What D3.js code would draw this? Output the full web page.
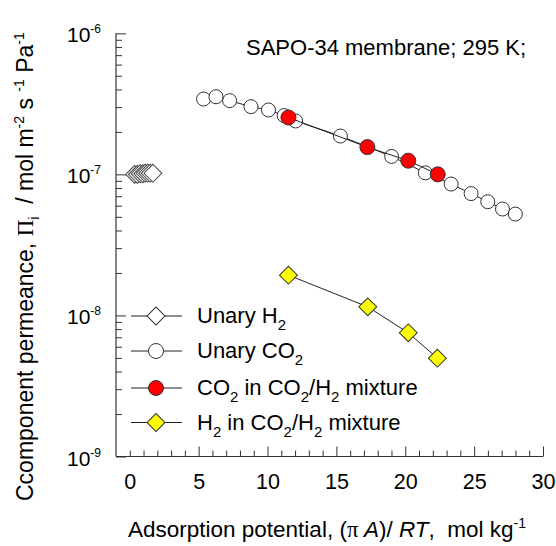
<!DOCTYPE html>
<html>
<head>
<meta charset="utf-8">
<script src="https://cdn.jsdelivr.net/npm/d3@7/dist/d3.min.js"></script>
<style>
  html, body { margin: 0; padding: 0; background: #fff; }
  svg { display: block; }
  text { font-family: "Liberation Sans", Arial, sans-serif; fill: #000; }
  .serif { font-family: "Liberation Serif", "Times New Roman", serif; }
</style>
</head>
<body>
<svg id="chart" width="556" height="546"></svg>
<script>
// Adsorption potential (mol/kg) and component permeance (mol m^-2 s^-1 Pa^-1)
const unaryH2X   = [0.35, 0.55, 0.75, 0.95, 1.12, 1.3, 1.48, 1.68];
const unaryH2Y   = [1.0e-7, 1.0e-7, 1.01e-7, 1.01e-7, 1.02e-7, 1.02e-7, 1.02e-7, 1.02e-7];
const unaryCO2X  = [5.36, 6.26, 7.25, 8.80, 10.07, 11.21, 12.04, 15.29, 19.01, 21.46, 23.33, 24.78, 25.99, 27.06, 27.99];
const unaryCO2Y  = [3.42e-7, 3.55e-7, 3.33e-7, 3.02e-7, 2.86e-7, 2.61e-7, 2.39e-7, 1.87e-7, 1.34e-7, 1.025e-7, 8.54e-8, 7.31e-8, 6.40e-8, 5.68e-8, 5.23e-8];
const mixCO2X    = [11.52, 17.25, 20.22, 22.36];
const mixCO2Y    = [2.53e-7, 1.56e-7, 1.25e-7, 1.00e-7];
const mixH2X     = [11.52, 17.28, 20.22, 22.33];
const mixH2Y     = [1.93e-8, 1.15e-8, 7.53e-9, 4.98e-9];

const xTicks = d3.range(0, 31, 1);
const xTickLabels = [0, 5, 10, 15, 20, 25, 30];
const yDecades = [-9, -8, -7, -6];

const svg = d3.select("#chart");

const x = d3.scaleLinear().domain([-1, 30]).range([116, 543]);
const y = d3.scaleLog().domain([1e-9, 1e-6]).range([456.5, 33.3]);

// ---- bottom axis ----
const xAxis = d3.axisBottom(x)
  .tickValues(xTicks)
  .tickSize(-6)
  .tickSizeOuter(0)
  .tickFormat(d => xTickLabels.includes(d) ? d : "")
  .tickPadding(17);

const gx = svg.append("g").attr("transform", "translate(0,456.5)").call(xAxis);
gx.select(".domain").attr("stroke", "#333").attr("stroke-width", 1.2)
  .attr("d", `M${x(-1)},0H${x(30)}`);
gx.selectAll(".tick line").attr("stroke", "#333")
  .attr("y2", d => (d % 5 === 0 && d > 0) ? -10 : -6);
gx.selectAll(".tick text").attr("font-size", 21.5).attr("fill", "#000")
  .style("font-family", "Liberation Sans, Arial, sans-serif");

// ---- left axis (log, with minor ticks) ----
const yTickVals = [];
yDecades.forEach(p => {
  const base = Math.pow(10, p);
  if (p === -6) { yTickVals.push(base); return; }
  for (let k = 1; k <= 9; k++) yTickVals.push(k * base);
});
const isMajor = v => Math.abs(Math.log10(v) - Math.round(Math.log10(v))) < 1e-9;

const yAxis = d3.axisLeft(y)
  .tickValues(yTickVals)
  .tickSize(-6)
  .tickSizeOuter(0)
  .tickFormat("");

const gy = svg.append("g").attr("transform", "translate(116,0)").call(yAxis);
gy.select(".domain").attr("stroke", "#333").attr("stroke-width", 1.2)
  .attr("d", `M0,${y(1e-9)}V${y(1e-6)}`);
gy.selectAll(".tick line").attr("stroke", "#333")
  .attr("x2", d => isMajor(d) ? 10 : 6);

// decade labels 10^n
yDecades.forEach(p => {
  const t = svg.append("text")
    .attr("x", 101).attr("y", y(Math.pow(10, p)) + 9)
    .attr("text-anchor", "end").attr("font-size", 21);
  t.append("tspan").text("10");
  t.append("tspan").attr("font-size", 12).attr("dy", -9).text(String(p));
});

// ---- series ----
const lineGen = d3.line().x(d => x(d[0])).y(d => y(d[1]));
const zip = (a, b) => a.map((v, i) => [v, b[i]]);

const h2u  = zip(unaryH2X, unaryH2Y);
const co2u = zip(unaryCO2X, unaryCO2Y);
const co2m = zip(mixCO2X, mixCO2Y);
const h2m  = zip(mixH2X, mixH2Y);

const diamond = d3.symbol(d3.symbolSquare, 160);

function drawLine(data) {
  svg.append("path").datum(data).attr("d", lineGen)
    .attr("fill", "none").attr("stroke", "#222").attr("stroke-width", 1);
}

// unary H2
drawLine(h2u);
svg.append("g").selectAll("path").data(h2u).join("path")
  .attr("d", diamond)
  .attr("transform", d => `translate(${x(d[0])},${y(d[1])}) rotate(45)`)
  .attr("fill", "#fff").attr("stroke", "#444").attr("stroke-width", 1);

// unary CO2
drawLine(co2u);
svg.append("g").selectAll("circle").data(co2u).join("circle")
  .attr("cx", d => x(d[0])).attr("cy", d => y(d[1])).attr("r", 7)
  .attr("fill", "#fff").attr("stroke", "#333").attr("stroke-width", 1);

// CO2 in mixture
drawLine(co2m);
svg.append("g").selectAll("circle").data(co2m).join("circle")
  .attr("cx", d => x(d[0])).attr("cy", d => y(d[1])).attr("r", 7.5)
  .attr("fill", "#ff0000").attr("stroke", "#333").attr("stroke-width", 1);

// H2 in mixture
drawLine(h2m);
svg.append("g").selectAll("path").data(h2m).join("path")
  .attr("d", diamond)
  .attr("transform", d => `translate(${x(d[0])},${y(d[1])}) rotate(45)`)
  .attr("fill", "#ffff00").attr("stroke", "#333").attr("stroke-width", 1);

// ---- legend ----
const legendItems = [
  { kind: "diamond", fill: "#fff", parts: [["Unary H", 0], ["2", 1]] },
  { kind: "circle", fill: "#fff", parts: [["Unary CO", 0], ["2", 1]] },
  { kind: "circle", fill: "#ff0000", parts: [["CO", 0], ["2", 1], [" in CO", 0], ["2", 1], ["/H", 0], ["2", 1], [" mixture", 0]] },
  { kind: "diamond", fill: "#ffff00", parts: [["H", 0], ["2", 1], [" in CO", 0], ["2", 1], ["/H", 0], ["2", 1], [" mixture", 0]] }
];
const legendY = [316, 351, 388, 422.5];
legendItems.forEach((it, i) => {
  const ly = legendY[i];
  svg.append("line").attr("x1", 131).attr("x2", 182).attr("y1", ly).attr("y2", ly)
    .attr("stroke", "#222").attr("stroke-width", 1);
  if (it.kind === "circle") {
    svg.append("circle").attr("cx", 156).attr("cy", ly).attr("r", 7.5)
      .attr("fill", it.fill).attr("stroke", "#333");
  } else {
    svg.append("path").attr("d", diamond)
      .attr("transform", `translate(156,${ly}) rotate(45)`)
      .attr("fill", it.fill).attr("stroke", "#333");
  }
  const t = svg.append("text").attr("x", 197).attr("y", ly + 7).attr("font-size", 22);
  let prevSub = 0;
  it.parts.forEach(([s, sub]) => {
    const dy = sub === prevSub ? 0 : (sub ? 7 : -7);
    t.append("tspan").attr("dy", dy).attr("font-size", sub ? 15 : 22).text(s);
    prevSub = sub;
  });
});

// ---- annotation ----
svg.append("text").attr("x", 246).attr("y", 55).attr("font-size", 22)
  .text("SAPO-34 membrane; 295 K;");

// ---- x axis title ----
const xt = svg.append("text").attr("x", 128).attr("y", 537).attr("font-size", 22.5);
xt.append("tspan").text("Adsorption potential, (");
xt.append("tspan").attr("class", "serif").text("\u03C0 ");
xt.append("tspan").attr("font-style", "italic").text("A");
xt.append("tspan").text(")/ ");
xt.append("tspan").attr("font-style", "italic").text("RT");
xt.append("tspan").text(",\u00A0\u00A0mol kg");
xt.append("tspan").attr("font-size", 14).attr("dy", -9).text("-1");

// ---- y axis title ----
const yt = svg.append("text")
  .attr("transform", "translate(33,501) rotate(-90)")
  .attr("font-size", 23);
yt.append("tspan").text("Ccomponent permeance, ");
yt.append("tspan").attr("class", "serif").text("\u03A0");
yt.append("tspan").attr("font-size", 14).attr("dy", 6).text("i");
yt.append("tspan").attr("dy", -6).text("\u00A0\u00A0/ mol m");
yt.append("tspan").attr("font-size", 14).attr("dy", -9).text("-2");
yt.append("tspan").attr("dy", 9).text(" s ");
yt.append("tspan").attr("font-size", 14).attr("dy", -9).text("-1");
yt.append("tspan").attr("dy", 9).text(" Pa");
yt.append("tspan").attr("font-size", 14).attr("dy", -9).text("-1");
</script>
</body>
</html>
